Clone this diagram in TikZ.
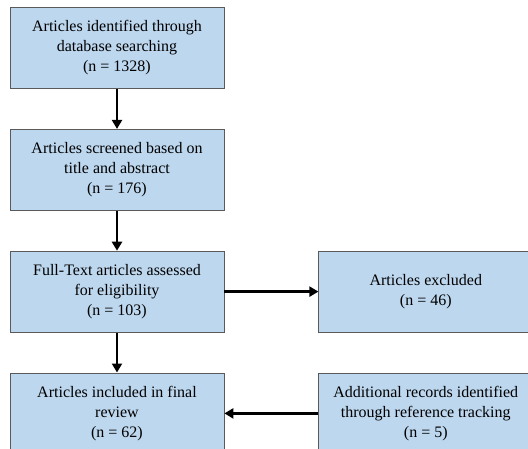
\documentclass[tikz,border=0pt]{standalone}
\usepackage{fontspec}
\setmainfont{Liberation Serif}
\definecolor{boxblue}{RGB}{189,215,238}
\definecolor{boxedge}{RGB}{90,90,90}
\usetikzlibrary{arrows.meta, positioning}

\begin{document}
\begin{tikzpicture}[
    node distance=40pt and 94pt,
    box/.style={rectangle, minimum width=214pt, minimum height=81pt, align=center,
                font=\fontsize{16pt}{20pt}\selectfont, draw=boxedge, fill=boxblue, line width=0.8pt},
    arrow/.style={-{Triangle[length=9pt, width=10pt]}, line width=2.8pt, color=black}
]

\useasboundingbox (0,0) rectangle (528pt,-448pt);
\clip (0,0) rectangle (528pt,-448pt);

\node[box] (search) at (117pt,-48pt) {Articles identified through\\database searching\\(n = 1328)};
\node[box, below=of search]   (screen)   {Articles screened based on\\title and abstract\\(n = 176)};
\node[box, below=of screen]   (fulltext) {Full-Text articles assessed\\for eligibility\\(n = 103)};
\node[box, below=of fulltext] (included) {Articles included in final\\review\\(n = 62)};

\node[box, right=of fulltext] (excluded)   {Articles excluded\\(n = 46)};
\node[box, right=of included] (additional) {Additional records identified\\through reference tracking\\(n = 5)};

\draw[arrow] (search)     -- (screen);
\draw[arrow] (screen)     -- (fulltext);
\draw[arrow] (fulltext)   -- (included);
\draw[arrow] (fulltext)   -- (excluded);
\draw[arrow] (additional) -- (included);

\end{tikzpicture}
\end{document}
